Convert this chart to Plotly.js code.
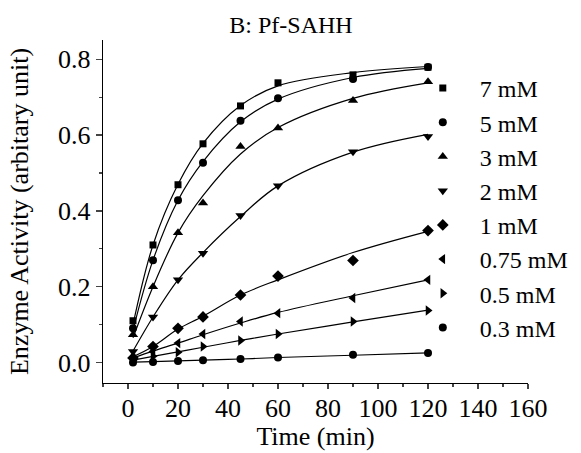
<!DOCTYPE html>
<html>
<head>
<meta charset="utf-8">
<script src="https://cdn.plot.ly/plotly-3.0.1.min.js"></script>
<style>html,body{margin:0;padding:0;background:#fff;}#chart{width:581px;height:453px;}</style>
</head>
<body>
<div id="chart"></div>
<script>
// Time points (min)
var times = [2, 10, 20, 30, 45, 60, 90, 120];

// Series labels
var labels = ["7 mM", "5 mM", "3 mM", "2 mM", "1 mM", "0.75 mM", "0.5 mM", "0.3 mM"];

// Measured enzyme activity (markers)
var c7   = [0.110, 0.310, 0.469, 0.577, 0.677, 0.738, 0.759, 0.779];
var c5   = [0.090, 0.270, 0.428, 0.527, 0.638, 0.697, 0.748, 0.780];
var c3   = [0.073, 0.200, 0.342, 0.421, 0.570, 0.619, 0.691, 0.741];
var c2   = [0.029, 0.120, 0.218, 0.288, 0.388, 0.466, 0.556, 0.596];
var c1   = [0.012, 0.042, 0.090, 0.120, 0.178, 0.228, 0.269, 0.348];
var c075 = [0.010, 0.029, 0.051, 0.075, 0.108, 0.130, 0.170, 0.218];
var c05  = [0.005, 0.016, 0.027, 0.042, 0.058, 0.075, 0.108, 0.137];
var c03  = [0.000, 0.001, 0.004, 0.006, 0.009, 0.013, 0.020, 0.025];

// Fitted curves (at the same times)
var f7   = [0.100, 0.310, 0.470, 0.578, 0.678, 0.730, 0.765, 0.781];
var f5   = [0.085, 0.270, 0.428, 0.530, 0.635, 0.695, 0.752, 0.776];
var f3   = [0.065, 0.200, 0.342, 0.440, 0.550, 0.620, 0.697, 0.738];
var f2   = [0.030, 0.120, 0.218, 0.290, 0.385, 0.466, 0.555, 0.602];
var f1   = [0.015, 0.042, 0.088, 0.122, 0.178, 0.218, 0.290, 0.346];
var f075 = [0.012, 0.030, 0.051, 0.073, 0.104, 0.132, 0.176, 0.218];
var f05  = [0.006, 0.016, 0.028, 0.040, 0.058, 0.075, 0.107, 0.138];
var f03  = [0.001, 0.002, 0.004, 0.006, 0.009, 0.013, 0.019, 0.025];

var symbols = ["square", "circle", "triangle-up", "triangle-down", "diamond", "triangle-left", "triangle-right", "circle"];
var sizes = [7, 8, 9, 9, 9, 9, 9, 8];
var dataSets = [c7, c5, c3, c2, c1, c075, c05, c03];
var fitSets = [f7, f5, f3, f2, f1, f075, f05, f03];

var traces = [];
for (var i = 0; i < fitSets.length; i++) {
  traces.push({
    x: times, y: fitSets[i], mode: "lines", type: "scatter",
    line: {color: "#000", width: 1.2, shape: "spline", smoothing: 1},
    showlegend: false, hoverinfo: "skip"
  });
}
for (var j = 0; j < dataSets.length; j++) {
  traces.push({
    x: times, y: dataSets[j], mode: "markers", type: "scatter", name: labels[j],
    marker: {symbol: symbols[j], size: sizes[j], color: "#000", line: {width: 0}}
  });
}

var fontFam = "'Liberation Serif', 'Times New Roman', Times, serif";
var layout = {
  width: 581, height: 453,
  paper_bgcolor: "#fff", plot_bgcolor: "#fff",
  font: {family: fontFam, color: "#000", size: 24},
  margin: {l: 102.7, r: 53.3, t: 40, b: 69.7, pad: 0, autoexpand: false},
  showlegend: true,
  title: {text: "B: Pf-SAHH", font: {family: fontFam, size: 24, color: "#000"},
          x: 291 / 581, xref: "container", xanchor: "center", y: 1 - 25 / 453, yref: "container", yanchor: "middle"},
  xaxis: {
    range: [-10, 160], tick0: 0, dtick: 20, ticks: "outside", ticklen: 5, tickwidth: 1.3,
    showline: true, linewidth: 1.3, linecolor: "#000", showgrid: false, zeroline: false,
    mirror: false, tickfont: {family: fontFam, size: 26, color: "#000"}, ticklabelstandoff: -4,
    minor: {dtick: 10, tick0: 0, ticks: "outside", ticklen: 3, tickwidth: 1.2, showgrid: false},
    title: {text: "Time (min)", font: {family: fontFam, size: 26, color: "#000"}, standoff: 5}
  },
  yaxis: {
    range: [-0.0543, 0.851], tick0: 0, dtick: 0.2, tickformat: ".1f", ticks: "outside", ticklen: 6, tickwidth: 1.3,
    showline: true, linewidth: 1.3, linecolor: "#000", showgrid: false, zeroline: false,
    tickfont: {family: fontFam, size: 26, color: "#000"},
    minor: {dtick: 0.1, tick0: 0, ticks: "outside", ticklen: 3, tickwidth: 1.2, showgrid: false},
    title: {text: "Enzyme Activity (arbitary unit)", font: {family: fontFam, size: 26, color: "#000"}, standoff: 22}
  },
  legend: {
    x: (405.5 - 102.7) / 425, xanchor: "left", y: (383.3 - 66) / 343.3, yanchor: "top",
    bgcolor: "rgba(0,0,0,0)", borderwidth: 0, itemwidth: 64,
    font: {family: fontFam, size: 24, color: "#000"}, tracegroupgap: 0
  }
};

Plotly.newPlot("chart", traces, layout, {staticPlot: true, displayModeBar: false});
</script>
</body>
</html>
